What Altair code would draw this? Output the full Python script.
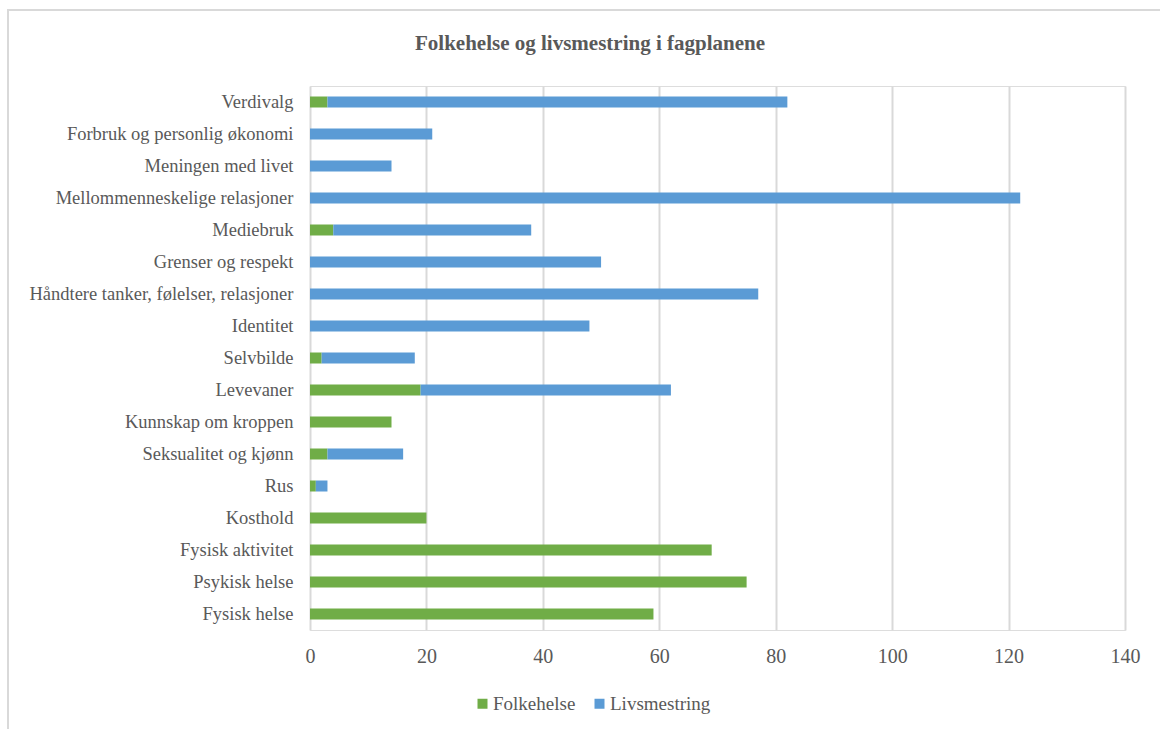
import altair as alt
import pandas as pd

categories = [
    "Verdivalg",
    "Forbruk og personlig økonomi",
    "Meningen med livet",
    "Mellommenneskelige relasjoner",
    "Mediebruk",
    "Grenser og respekt",
    "Håndtere tanker, følelser, relasjoner",
    "Identitet",
    "Selvbilde",
    "Levevaner",
    "Kunnskap om kroppen",
    "Seksualitet og kjønn",
    "Rus",
    "Kosthold",
    "Fysisk aktivitet",
    "Psykisk helse",
    "Fysisk helse",
]
folkehelse = [3, 0, 0, 0, 4, 0, 0, 0, 2, 19, 14, 3, 1, 20, 69, 75, 59]
livsmestring = [79, 21, 14, 122, 34, 50, 77, 48, 16, 43, 0, 13, 2, 0, 0, 0, 0]
series = ["Folkehelse", "Livsmestring"]
colors = ["#70AD47", "#5B9BD5"]
x_ticks = [0, 20, 40, 60, 80, 100, 120, 140]
title_text = "Folkehelse og livsmestring i fagplanene"

rows = []
for i, c in enumerate(categories):
    rows.append({"kategori": c, "serie": series[0], "verdi": folkehelse[i], "ord": 0})
    rows.append({"kategori": c, "serie": series[1], "verdi": livsmestring[i], "ord": 1})
df = pd.DataFrame(rows)

FONT = "Liberation Serif"
GREY = "#595959"

bars = alt.Chart(df).mark_bar(size=11).encode(
    y=alt.Y("kategori:N", sort=categories, title=None,
            axis=alt.Axis(labelFont=FONT, labelFontSize=18.5, labelColor=GREY,
                          labelPadding=17, ticks=False, domain=False, grid=False,
                          labelLimit=400)),
    x=alt.X("verdi:Q", stack="zero", title=None,
            scale=alt.Scale(domain=[0, 140], nice=False),
            axis=alt.Axis(values=x_ticks, labelFont=FONT, labelFontSize=20,
                          labelColor=GREY, labelPadding=16, ticks=False,
                          labelFlush=False,
                          domain=False, grid=True, gridColor="#d9d9d9",
                          gridWidth=2)),
    color=alt.Color("serie:N", scale=alt.Scale(domain=series, range=colors),
                    title=None,
                    legend=alt.Legend(orient="none", legendX=163, legendY=608,
                                      direction="horizontal", symbolType="square",
                                      symbolSize=100, symbolStrokeWidth=0,
                                      labelFont=FONT, labelFontSize=19,
                                      labelColor=GREY, columnPadding=14,
                                      labelOffset=1)),
    order=alt.Order("ord:Q", sort="ascending"),
)

one = pd.DataFrame({"t": [title_text]})

border = alt.Chart(one).mark_rect(
    fill=None, stroke="#d9d9d9", strokeWidth=2
).encode(
    x=alt.value(-302), x2=alt.value(900),
    y=alt.value(-76), y2=alt.value(700),
)

title = alt.Chart(one).mark_text(
    font=FONT, fontSize=21, fontWeight="bold", color=GREY,
    align="center", baseline="middle"
).encode(
    text="t:N", x=alt.value(280), y=alt.value(-42),
)

chart = alt.layer(border, bars, title).properties(
    width=815,
    height=544,
    padding={"left": 310, "top": 86, "right": 35, "bottom": 99},
    autosize=alt.AutoSizeParams(type="none"),
).configure_view(stroke=None).configure(background="white")

chart.save("out.html", embed_options={"renderer": "svg", "actions": False})
